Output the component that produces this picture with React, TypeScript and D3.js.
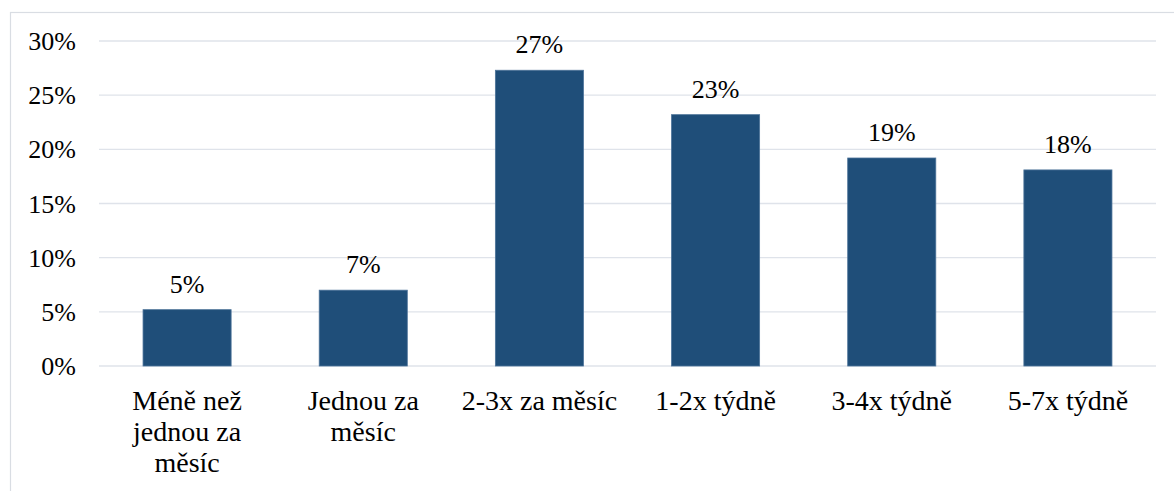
import React from "react";
import * as d3 from "d3";

const categories = [
  "Méně než\njednou za\nměsíc",
  "Jednou za\nměsíc",
  "2-3x za měsíc",
  "1-2x týdně",
  "3-4x týdně",
  "5-7x týdně",
];
const values = [5.2, 7.0, 27.3, 23.2, 19.2, 18.1];
const valueLabels = ["5%", "7%", "27%", "23%", "19%", "18%"];
const yTicks = [0, 5, 10, 15, 20, 25, 30];

const W = 1174;
const H = 491;
const plotLeft = 99;
const plotRight = 1156;
const plotTop = 41;
const plotBottom = 366;

export default function App() {
  const x = d3.scaleBand<string>().domain(categories).range([plotLeft, plotRight]).paddingInner(0.5).paddingOuter(0.25);
  const y = d3.scaleLinear().domain([0, 30]).range([plotBottom, plotTop]);

  return (
    <svg width={W} height={H} style={{ position: "absolute", left: 0, top: 0 }}>
      <rect x={10.5} y={12.5} width={1300} height={700} fill="#ffffff" stroke="#d9dde3" strokeWidth={1.2} />
      {yTicks.map((t) => (
        <line key={"g" + t} x1={plotLeft} x2={plotRight} y1={y(t)} y2={y(t)} stroke="#dfe3ea" strokeWidth={1.4} />
      ))}
      {yTicks.map((t) => (
        <text key={"t" + t} x={76} y={y(t) + 9} textAnchor="end" fontFamily="Liberation Serif" fontSize={26}>
          {t}%
        </text>
      ))}
      {categories.map((c, i) => (
        <rect
          key={"b" + i}
          x={x(c)}
          y={y(values[i])}
          width={x.bandwidth()}
          height={y(0) - y(values[i])}
          fill="#1F4E79"
          stroke="#4d7399"
          strokeWidth={0.8}
        />
      ))}
      {categories.map((c, i) => (
        <text
          key={"v" + i}
          x={x(c)! + x.bandwidth() / 2}
          y={y(values[i]) - 17}
          textAnchor="middle"
          fontFamily="Liberation Serif"
          fontSize={26}
        >
          {valueLabels[i]}
        </text>
      ))}
      {categories.map((c, i) =>
        c.split("\n").map((ln, j) => (
          <text
            key={"c" + i + "_" + j}
            x={x(c)! + x.bandwidth() / 2}
            y={plotBottom + 44 + j * 31}
            textAnchor="middle"
            fontFamily="Liberation Serif"
            fontSize={28}
          >
            {ln}
          </text>
        ))
      )}
    </svg>
  );
}
